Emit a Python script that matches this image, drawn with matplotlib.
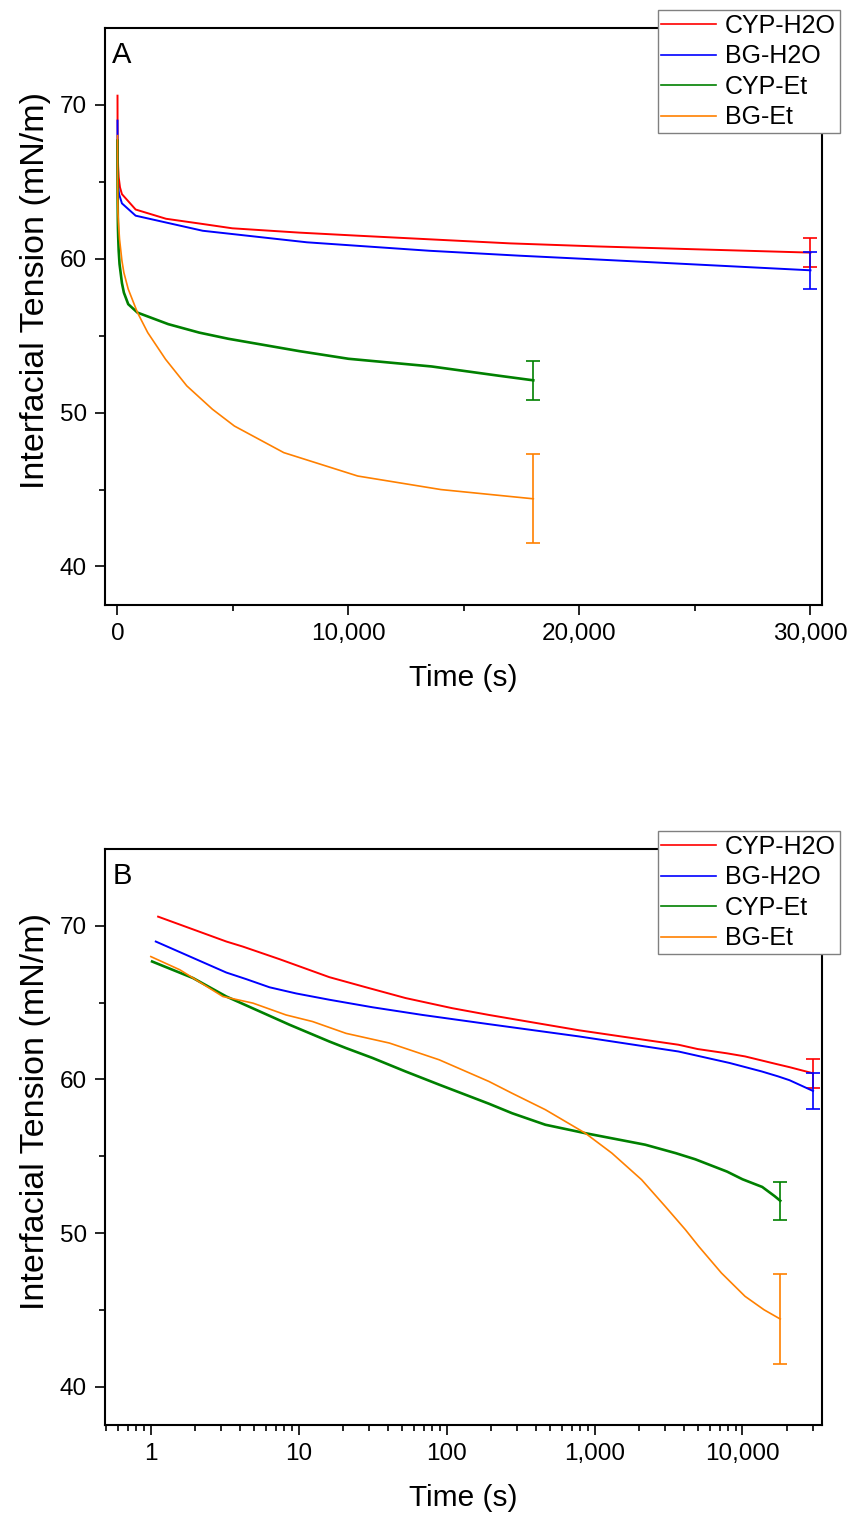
import matplotlib
matplotlib.use("Agg")
import matplotlib.pyplot as plt
from matplotlib.ticker import FixedLocator, FuncFormatter, LogLocator, NullFormatter

plt.rcParams['font.family'] = ['Liberation Sans', 'DejaVu Sans']

# data (time in s, interfacial tension in mN/m)
labels = ["CYP-H2O", "BG-H2O", "CYP-Et", "BG-Et"]
colors = ["#ff0000", "#0000ff", "#008000", "#ff8000"]

t_cyp_h2o = [1.12, 3.24, 4.19, 7.42, 16.1, 28.5, 52.7, 109, 193, 786, 2100, 3690,
             4970, 7860, 10400, 17000, 20800, 30000]
v_cyp_h2o = [70.6, 68.98, 68.65, 67.83, 66.66, 66.0, 65.3, 64.64, 64.2, 63.2, 62.6, 62.26,
             61.98, 61.7, 61.5, 61.0, 60.8, 60.4]

t_bg_h2o = [1.08, 3.24, 4.42, 6.35, 9.6, 16.1, 31.5, 68.6, 193, 786, 3690, 8200,
            13500, 17400, 20800, 30000]
v_bg_h2o = [68.98, 66.96, 66.53, 66.0, 65.6, 65.19, 64.7, 64.2, 63.6, 62.8, 61.82, 61.07,
            60.52, 60.2, 59.95, 59.25]

t_cyp_et = [1.02, 1.93, 3.24, 5.16, 8.67, 16.1, 20.9, 31.5, 52.7, 89, 193, 277, 465, 866,
            2200, 3540, 4800, 7860, 10000, 13600, 16500, 18000]
v_cyp_et = [67.68, 66.6, 65.4, 64.53, 63.56, 62.47, 62.04, 61.4, 60.52, 59.66, 58.42, 57.8,
            57.05, 56.5, 55.75, 55.2, 54.8, 54.0, 53.5, 53.0, 52.4, 52.1]

t_bg_et = [1.0, 1.57, 3.07, 4.9, 8.2, 12.4, 20.9, 41, 89, 193, 277, 465, 866, 1310, 2080,
           3000, 4110, 5060, 7200, 10400, 14000, 18000]
v_bg_et = [68.0, 67.14, 65.4, 64.97, 64.2, 63.77, 63.0, 62.37, 61.28, 59.87, 59.1, 58.03,
           56.5, 55.2, 53.47, 51.74, 50.22, 49.13, 47.4, 45.88, 45.0, 44.4]

# standard deviation at the final point
err_end = [0.95, 1.2, 1.25, 2.9]

series = [(t_cyp_h2o, v_cyp_h2o), (t_bg_h2o, v_bg_h2o), (t_cyp_et, v_cyp_et), (t_bg_et, v_bg_et)]
widths = [1.4, 1.4, 1.9, 1.2]

comma = FuncFormatter(lambda x, p: f"{x:,.0f}")

fig = plt.figure(figsize=(8.53, 15.2), dpi=100)
ax_a = fig.add_axes([0.1231, 0.6020, 0.8406, 0.3796])
ax_b = fig.add_axes([0.1231, 0.0625, 0.8406, 0.3789])


def draw_panel(ax, letter, logx):
    for (t, v), c, lab, e, w in zip(series, colors, labels, err_end, widths):
        ax.plot(t, v, color=c, lw=w, label=lab)
        ax.errorbar(t[-1], v[-1], yerr=e, color=c, elinewidth=1.2,
                    capsize=5, capthick=1.2, fmt='none')
    ax.set_ylim(37.5, 75)
    ax.yaxis.set_major_locator(FixedLocator([40, 50, 60, 70]))
    ax.yaxis.set_minor_locator(FixedLocator([45, 55, 65]))
    if logx:
        ax.set_xscale('log')
        ax.set_xlim(0.49, 34500)
        ax.xaxis.set_major_locator(LogLocator(base=10, numticks=10))
        ax.xaxis.set_minor_locator(LogLocator(base=10, subs=range(2, 10), numticks=20))
        ax.xaxis.set_minor_formatter(NullFormatter())
    else:
        ax.set_xlim(-540, 30500)
        ax.xaxis.set_major_locator(FixedLocator([0, 10000, 20000, 30000]))
        ax.xaxis.set_minor_locator(FixedLocator([5000, 15000, 25000]))
    ax.xaxis.set_major_formatter(comma)
    ax.tick_params(which='major', direction='out', length=7, width=1.2,
                   labelsize=17.5, pad=6, top=False, right=False)
    ax.tick_params(which='minor', direction='out', length=4, width=1.2,
                   top=False, right=False)
    for s in ax.spines.values():
        s.set_linewidth(1.5)
    ax.set_xlabel("Time (s)", fontsize=21.5, labelpad=14)
    ax.set_ylabel("Interfacial Tension (mN/m)", fontsize=24.5)
    ax.yaxis.set_label_coords(-0.075, 0.545)
    ax.text(0.01, 0.978, letter, transform=ax.transAxes, fontsize=21,
            ha='left', va='top')
    leg = ax.legend(loc='upper right', bbox_to_anchor=(1.025, 1.031), borderaxespad=0,
                    fontsize=18, fancybox=False, framealpha=1, edgecolor='#808080',
                    handlelength=2.2, handletextpad=0.35, labelspacing=0.26,
                    borderpad=0.15)
    leg.get_frame().set_linewidth(1.0)
    for ln in leg.get_lines():
        ln.set_linewidth(1.2)


draw_panel(ax_a, "A", False)
draw_panel(ax_b, "B", True)

fig.savefig("out.png", dpi=100)
